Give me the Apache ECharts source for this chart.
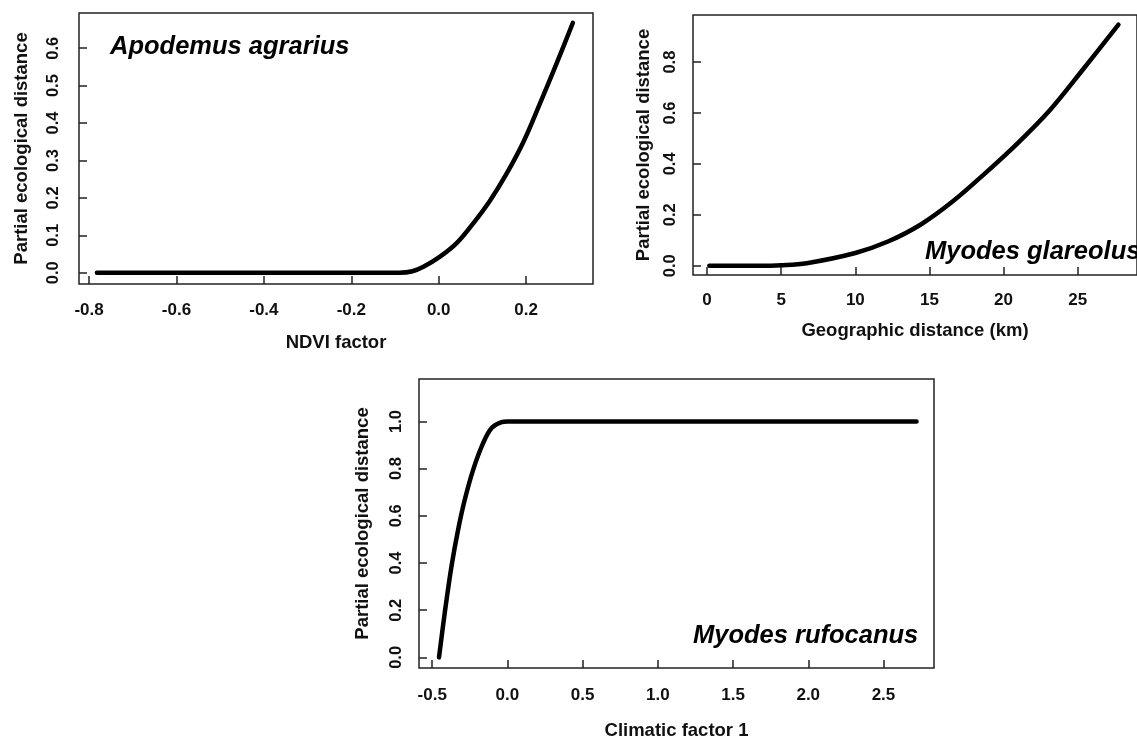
<!DOCTYPE html>
<html>
<head>
<meta charset="utf-8">
<script src="https://cdn.jsdelivr.net/npm/echarts@6/dist/echarts.min.js"></script>
<style>
html,body{margin:0;padding:0;background:#fff;}
#chart{width:1137px;height:741px;}
</style>
</head>
<body>
<div id="chart"></div>
<script>
// ---- Panel A: Apodemus agrarius (NDVI factor) ----
const ndviX = [-0.782, -0.60, -0.40, -0.20, -0.09, -0.06, -0.035, 0.003, 0.041, 0.079, 0.118, 0.156, 0.194, 0.232, 0.270, 0.307];
const ndviY = [0, 0, 0, 0, 0, 0.004, 0.016, 0.043, 0.079, 0.132, 0.194, 0.266, 0.350, 0.453, 0.560, 0.668];
const ndviXTicks = ['-0.8', '-0.6', '-0.4', '-0.2', '0.0', '0.2'];
const ndviYTicks = ['0.0', '0.1', '0.2', '0.3', '0.4', '0.5', '0.6'];

// ---- Panel B: Myodes glareolus (Geographic distance) ----
const geoX = [0.15, 2.0, 3.44, 5.0, 6.72, 10.0, 12.2, 14.39, 16.58, 18.77, 20.96, 23.15, 25.34, 27.75];
const geoY = [0, 0, 0, 0.002, 0.010, 0.050, 0.095, 0.161, 0.253, 0.364, 0.482, 0.613, 0.770, 0.947];
const geoXTicks = ['0', '5', '10', '15', '20', '25'];
const geoYTicks = ['0.0', '0.2', '0.4', '0.6', '0.8'];

// ---- Panel C: Myodes rufocanus (Climatic factor 1) ----
const climX = [-0.455, -0.416, -0.371, -0.327, -0.283, -0.227, -0.161, -0.105, -0.039, 0.0, 0.5, 1.0, 1.5, 2.0, 2.5, 2.72];
const climY = [0, 0.193, 0.39, 0.544, 0.67, 0.797, 0.909, 0.972, 0.997, 1.0, 1.0, 1.0, 1.0, 1.0, 1.0, 1.0];
const climXTicks = ['-0.5', '0.0', '0.5', '1.0', '1.5', '2.0', '2.5'];
const climYTicks = ['0.0', '0.2', '0.4', '0.6', '0.8', '1.0'];

const species = ['Apodemus agrarius', 'Myodes glareolus', 'Myodes rufocanus'];
const xNames = ['NDVI factor', 'Geographic distance (km)', 'Climatic factor 1'];
const yName = 'Partial ecological distance';

const FONT = '"Liberation Sans", Arial, Helvetica, sans-serif';
const pairs = (xs, ys) => xs.map((x, i) => [x, ys[i]]);

function xAxis(gi, ticks, min, max, name, margin, gap) {
  const vals = ticks.map(Number);
  return {
    type: 'value', gridIndex: gi, min: min, max: max,
    name: name, nameLocation: 'middle', nameGap: gap,
    nameTextStyle: { fontFamily: FONT, fontSize: 18.5, fontWeight: 'bold', color: '#111' },
    axisLine: { show: false, onZero: false },
    axisTick: { show: true, inside: true, length: 8, customValues: vals, lineStyle: { color: '#222', width: 1.5 } },
    axisLabel: {
      show: true, customValues: vals, margin: margin,
      fontFamily: FONT, fontSize: 17, fontWeight: 'bold', color: '#111',
      formatter: v => ticks[vals.findIndex(t => Math.abs(t - v) < 1e-9)]
    },
    splitLine: { show: false }
  };
}
function yAxis(gi, ticks, min, max, margin, gap) {
  const vals = ticks.map(Number);
  return {
    type: 'value', gridIndex: gi, min: min, max: max,
    name: yName, nameLocation: 'middle', nameGap: gap,
    nameTextStyle: { fontFamily: FONT, fontSize: 18.5, fontWeight: 'bold', color: '#111' },
    axisLine: { show: false, onZero: false },
    axisTick: { show: true, inside: true, length: 8, customValues: vals, lineStyle: { color: '#222', width: 1.5 } },
    axisLabel: {
      show: true, customValues: vals, margin: margin, rotate: 90,
      fontFamily: FONT, fontSize: 16.5, fontWeight: 'bold', color: '#111',
      formatter: v => ticks[vals.findIndex(t => Math.abs(t - v) < 1e-9)]
    },
    splitLine: { show: false }
  };
}
function line(gi, data) {
  return {
    type: 'line', xAxisIndex: gi, yAxisIndex: gi, data: data,
    showSymbol: false, smooth: 0.35,
    lineStyle: { color: '#000', width: 4.5, cap: 'round', join: 'round' },
    silent: true, animation: false
  };
}
const gridStyle = { show: true, borderColor: '#222', borderWidth: 1.5, backgroundColor: 'transparent' };
const speciesStyle = { fontFamily: FONT, fontSize: 25.5, fontWeight: 'bold', fontStyle: 'italic', color: '#000' };

const chart = echarts.init(document.getElementById('chart'), null, { renderer: 'canvas' });
chart.setOption({
  animation: false,
  backgroundColor: '#fff',
  title: [
    { text: species[0], left: 110, top: 34, padding: 0, textStyle: speciesStyle },
    { text: species[1], left: 925, top: 239, padding: 0, textStyle: speciesStyle },
    { text: species[2], left: 693, top: 623, padding: 0, textStyle: speciesStyle }
  ],
  grid: [
    Object.assign({ left: 79, top: 13, width: 514, height: 271 }, gridStyle),
    Object.assign({ left: 693, top: 15, width: 456, height: 260 }, gridStyle),
    Object.assign({ left: 419, top: 379, width: 515, height: 291 }, gridStyle)
  ],
  xAxis: [
    xAxis(0, ndviXTicks, -0.823, 0.353, xNames[0], 18, 49),
    xAxis(1, geoXTicks, -0.95, 29.0, xNames[1], 17, 46),
    xAxis(2, climXTicks, -0.588, 2.836, xNames[2], 19, 53)
  ],
  yAxis: [
    yAxis(0, ndviYTicks, -0.030, 0.694, 17, 48),
    yAxis(1, geoYTicks, -0.0365, 0.985, 14, 40),
    yAxis(2, climYTicks, -0.045, 1.18, 14, 47)
  ],
  series: [
    line(0, pairs(ndviX, ndviY)),
    line(1, pairs(geoX, geoY)),
    line(2, pairs(climX, climY))
  ]
});
</script>
</body>
</html>
